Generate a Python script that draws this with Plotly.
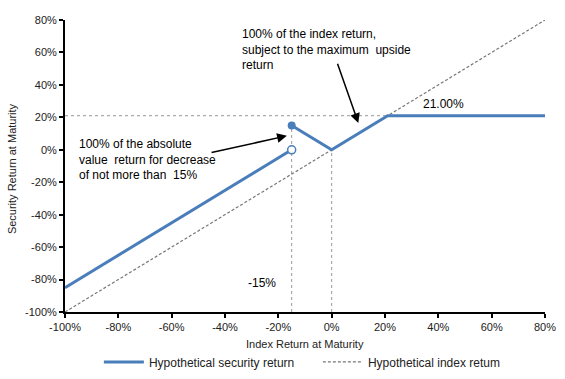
import plotly.graph_objects as go

# Data
index_x = [-100, 80]
index_y = [-100, 80]
sec_low_x = [-100, -15]
sec_low_y = [-85, 0]
sec_high_x = [-15, 0, 21, 80]
sec_high_y = [15, 0, 21, 21]
cap_value = 21
buffer_level = -15
x_ticks = [-100, -80, -60, -40, -20, 0, 20, 40, 60, 80]
y_ticks = [-100, -80, -60, -40, -20, 0, 20, 40, 60, 80]
x_tick_labels = ["-100%", "-80%", "-60%", "-40%", "-20%", "0%", "20%", "40%", "60%", "80%"]
y_tick_labels = ["-100%", "-80%", "-60%", "-40%", "-20%", "0%", "20%", "40%", "60%", "80%"]

BLUE = "#4a7ebb"
GRAY = "#777777"
FONT = "Liberation Sans, Arial, sans-serif"

fig = go.Figure()

# reference dotted lines
fig.add_trace(go.Scatter(x=[-100, cap_value], y=[cap_value, cap_value], mode="lines",
                         line=dict(color="#999999", width=1, dash="dot"), showlegend=False, hoverinfo="skip"))
fig.add_trace(go.Scatter(x=[buffer_level, buffer_level], y=[-100, -buffer_level], mode="lines",
                         line=dict(color="#999999", width=1, dash="dot"), showlegend=False, hoverinfo="skip"))
fig.add_trace(go.Scatter(x=[0, 0], y=[-100, 0], mode="lines",
                         line=dict(color="#999999", width=1, dash="dot"), showlegend=False, hoverinfo="skip"))

# index line
fig.add_trace(go.Scatter(x=index_x, y=index_y, mode="lines", name="Hypothetical index retum",
                         line=dict(color=GRAY, width=1.2, dash="3px,2px"), legendrank=2))

# security line
fig.add_trace(go.Scatter(x=sec_low_x, y=sec_low_y, mode="lines", name="Hypothetical security return",
                         line=dict(color=BLUE, width=3), legendrank=1))
fig.add_trace(go.Scatter(x=sec_high_x, y=sec_high_y, mode="lines", showlegend=False,
                         line=dict(color=BLUE, width=3)))
fig.add_trace(go.Scatter(x=[sec_high_x[0]], y=[sec_high_y[0]], mode="markers", showlegend=False,
                         marker=dict(color=BLUE, size=8)))
fig.add_trace(go.Scatter(x=[sec_low_x[-1]], y=[sec_low_y[-1]], mode="markers", showlegend=False,
                         marker=dict(color="white", size=8, line=dict(color=BLUE, width=1.5))))

annotations = [
    dict(x=10, y=16.5, ax=2, ay=54, xref="x", yref="y", axref="x", ayref="y",
         showarrow=True, arrowhead=2, arrowsize=1.3, arrowwidth=1.5, arrowcolor="black", text=""),
    dict(x=-16.8, y=8.6, ax=-45.6, ay=-1.9, xref="x", yref="y", axref="x", ayref="y",
         showarrow=True, arrowhead=2, arrowsize=1.3, arrowwidth=1.5, arrowcolor="black", text=""),
    dict(x=-34.4, y=77, xref="x", yref="y", xanchor="left", yanchor="top", align="left", showarrow=False,
         text="100% of the index return,<br>subject to the maximum  upside<br>return",
         font=dict(size=12, color="black", family=FONT)),
    dict(x=-95.5, y=9, xref="x", yref="y", xanchor="left", yanchor="top", align="left", showarrow=False,
         text="100% of the absolute<br>value  return for decrease<br>of not more than  15%",
         font=dict(size=12, color="black", family=FONT)),
    dict(x=42, y=28, xref="x", yref="y", showarrow=False, text="21.00%",
         font=dict(size=12, color="black", family=FONT)),
    dict(x=-26, y=-82, xref="x", yref="y", showarrow=False, text="-15%",
         font=dict(size=12, color="black", family=FONT)),
    # axis titles
    dict(x=0.5, y=-0.11, xref="paper", yref="paper", xanchor="center", yanchor="middle", showarrow=False,
         text="Index Return at Maturity", font=dict(size=11, color="#222222", family=FONT)),
    dict(x=-0.11, y=0.49, xref="paper", yref="paper", xanchor="center", yanchor="middle", showarrow=False,
         textangle=-90, text="Security Return at Maturity", font=dict(size=11, color="#222222", family=FONT)),
]

axis_common = dict(showline=True, linecolor="black", linewidth=2, ticks="outside", ticklen=4,
                   tickcolor="black", tickwidth=2, showgrid=False, zeroline=False,
                   tickfont=dict(size=11, color="#222222", family=FONT),
                   automargin=False, tickmode="array")

fig.update_layout(
    width=565, height=379,
    margin=dict(l=65, r=20, t=20, b=67),
    paper_bgcolor="white", plot_bgcolor="white",
    font=dict(family=FONT, size=11, color="#222222"),
    xaxis=dict(range=[-100, 80], tickvals=x_ticks, ticktext=x_tick_labels, **axis_common),
    yaxis=dict(range=[-100, 80], tickvals=y_ticks, ticktext=y_tick_labels, **axis_common),
    legend=dict(orientation="h", x=0.175, xanchor="left", xref="container", y=0.045, yanchor="middle",
                yref="container", font=dict(size=12, color="#222222"), traceorder="normal",
                entrywidth=164, entrywidthmode="pixels", itemwidth=40),
    annotations=annotations,
    showlegend=True,
)

fig.write_html("out.html", config={"displayModeBar": False},
               post_script="document.body.style.margin='0';document.body.style.padding='0';")
